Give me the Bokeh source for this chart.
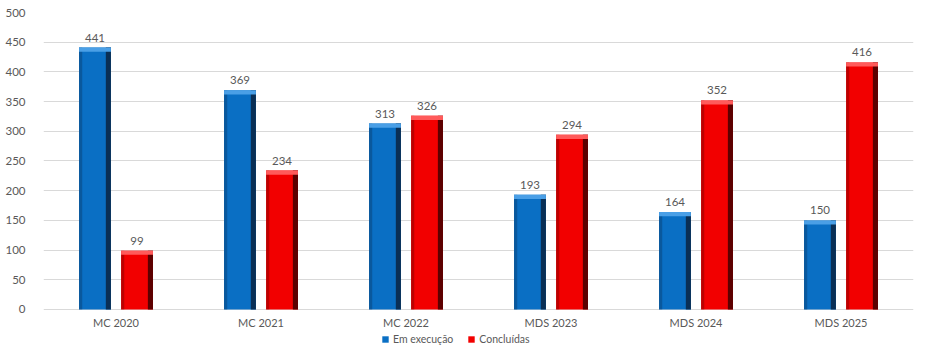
from bokeh.plotting import figure
from bokeh.models import ColumnDataSource, FactorRange, Legend, LegendItem, Range1d, LabelSet
from bokeh.core.properties import value
from bokeh.transform import dodge
from bokeh.embed import file_html
from bokeh.resources import INLINE

categories = ["MC 2020", "MC 2021", "MC 2022", "MDS 2023", "MDS 2024", "MDS 2025"]
em_execucao = [441, 369, 313, 193, 164, 150]
concluidas = [99, 234, 326, 294, 352, 416]
series_names = ["Em execução", "Concluídas"]
y_ticks = [0, 50, 100, 150, 200, 250, 300, 350, 400, 450, 500]

src = ColumnDataSource(dict(
    cat=categories,
    a=em_execucao,
    b=concluidas,
    a_cap=[v - 7 for v in em_execucao],
    b_cap=[v - 7 for v in concluidas],
    a_lbl=[str(v) for v in em_execucao],
    b_lbl=[str(v) for v in concluidas],
))

FONT = "Lato"
GREY = "#595959"

# frame extends below zero so the category labels and the legend sit inside it
p = figure(x_range=FactorRange(*categories, range_padding=0), y_range=Range1d(-62.3, 500),
           width=914, height=346, frame_width=870, frame_height=334,
           output_backend="svg", toolbar_location=None,
           min_border_left=43, min_border_right=1, min_border_top=12, min_border_bottom=0)
p.outline_line_color = None
p.background_fill_color = "white"
p.border_fill_color = "white"
p.xaxis.visible = False

W = 0.22
OFF = 0.145

def bars(col, cap, xoff, base, dark, light):
    r = p.vbar(x=dodge("cat", xoff, range=p.x_range), top=col, bottom=0, width=W, source=src,
               fill_color=base, line_color=None)
    p.vbar(x=dodge("cat", xoff + W * 0.42, range=p.x_range), top=col, bottom=0, width=W * 0.16,
           source=src, fill_color=dark, line_color=None)
    p.vbar(x=dodge("cat", xoff - W * 0.45, range=p.x_range), top=col, bottom=0, width=W * 0.1,
           source=src, fill_color=dark, fill_alpha=0.35, line_color=None)
    p.vbar(x=dodge("cat", xoff, range=p.x_range), top=col, bottom=cap, width=W, source=src,
           fill_color=light, line_color=None)
    return r

ra = bars("a", "a_cap", -OFF, "#0a6fc4", "#0a2f55", "#4a9fe6")
rb = bars("b", "b_cap", OFF, "#f20000", "#5c0000", "#ff5a5a")

for col, lbl, xoff in (("a", "a_lbl", -OFF), ("b", "b_lbl", OFF)):
    ls = LabelSet(x=dodge("cat", xoff, range=p.x_range), y=col, text=lbl, source=src,
                  y_offset=6, text_align="center", text_baseline="bottom",
                  text_font=value(FONT), text_font_size=value("11.5px"), text_color=GREY)
    p.add_layout(ls)

# category labels under the zero line
cat_labels = LabelSet(x="cat", y=0, text="cat", source=src, y_offset=-13,
                      text_align="center", text_baseline="middle",
                      text_font=value(FONT), text_font_size=value("11px"), text_color=GREY)
p.add_layout(cat_labels)

p.yaxis.ticker = y_ticks
p.yaxis.axis_line_color = None
p.yaxis.major_tick_line_color = None
p.yaxis.minor_tick_line_color = None
p.yaxis.major_label_text_font = FONT
p.yaxis.major_label_text_font_size = "11.5px"
p.yaxis.major_label_text_color = GREY
p.yaxis.major_label_standoff = 12

p.xgrid.grid_line_color = None
p.ygrid.ticker = y_ticks
p.ygrid.grid_line_color = "#d9d9d9"

legend = Legend(items=[LegendItem(label=series_names[0], renderers=[ra]),
                       LegendItem(label=series_names[1], renderers=[rb])],
                orientation="horizontal", location=(338, 1),
                label_text_font=FONT, label_text_font_size="10.5px", label_text_color=GREY,
                glyph_width=8, glyph_height=8, spacing=14, padding=0, margin=0,
                label_height=10, label_standoff=4, border_line_color=None,
                background_fill_alpha=0)
p.add_layout(legend, "center")

open("out.html", "w").write(file_html(p, INLINE))
